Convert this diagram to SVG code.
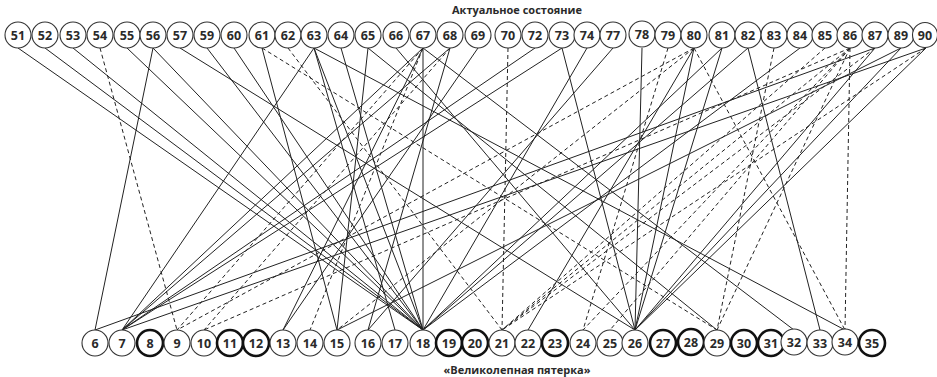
<svg xmlns="http://www.w3.org/2000/svg" width="937" height="377" viewBox="0 0 937 377">
<style>
.bg{fill:#fff}
.s{stroke:#222;stroke-width:1;fill:none}
.d{stroke:#222;stroke-width:1;fill:none;stroke-dasharray:4 3}
.n circle{fill:#fff;stroke:#333;stroke-width:1.1}
.n.k circle{stroke:#111;stroke-width:2.6}
.n text{font-family:"Open Sans","Noto Sans",sans-serif;font-weight:700;font-size:12.5px;fill:#2a2a2a;text-anchor:middle}
.t{font-family:"Open Sans","Noto Sans",sans-serif;font-weight:700;font-size:11px;fill:#2a2a2a;text-anchor:middle}
</style>
<rect class="bg" x="0" y="0" width="937" height="377"/>
<text class="t" x="517" y="14">Актуальное состояние</text>
<text class="t" x="517" y="374">«Великолепная пятерка»</text>
<g id="connectors">
<line class="s" x1="18" y1="48" x2="423" y2="330"/>
<line class="s" x1="45" y1="48" x2="423" y2="330"/>
<line class="s" x1="73" y1="48" x2="423" y2="330"/>
<line class="s" x1="127" y1="48" x2="423" y2="330"/>
<line class="s" x1="153" y1="48" x2="95" y2="330"/>
<line class="s" x1="153" y1="48" x2="423" y2="330"/>
<line class="s" x1="180" y1="48" x2="635" y2="330"/>
<line class="s" x1="207" y1="48" x2="423" y2="330"/>
<line class="s" x1="234" y1="48" x2="423" y2="330"/>
<line class="s" x1="262" y1="48" x2="337" y2="330"/>
<line class="s" x1="314" y1="48" x2="122" y2="330"/>
<line class="s" x1="314" y1="48" x2="395" y2="330"/>
<line class="s" x1="314" y1="48" x2="423" y2="330"/>
<line class="s" x1="314" y1="48" x2="845" y2="330"/>
<line class="s" x1="341" y1="48" x2="423" y2="330"/>
<line class="s" x1="368" y1="48" x2="337" y2="330"/>
<line class="s" x1="368" y1="48" x2="717" y2="330"/>
<line class="s" x1="396" y1="48" x2="635" y2="330"/>
<line class="s" x1="423" y1="48" x2="423" y2="330"/>
<line class="s" x1="423" y1="48" x2="283" y2="330"/>
<line class="s" x1="423" y1="48" x2="794" y2="330"/>
<line class="s" x1="423" y1="48" x2="122" y2="330"/>
<line class="s" x1="450" y1="48" x2="122" y2="330"/>
<line class="s" x1="450" y1="48" x2="368" y2="330"/>
<line class="s" x1="478" y1="48" x2="283" y2="330"/>
<line class="s" x1="535" y1="48" x2="122" y2="330"/>
<line class="s" x1="562" y1="48" x2="122" y2="330"/>
<line class="s" x1="562" y1="48" x2="635" y2="330"/>
<line class="s" x1="587" y1="48" x2="423" y2="330"/>
<line class="s" x1="613" y1="48" x2="368" y2="330"/>
<line class="s" x1="642" y1="48" x2="635" y2="330"/>
<line class="s" x1="694" y1="48" x2="528" y2="330"/>
<line class="s" x1="694" y1="48" x2="635" y2="330"/>
<line class="s" x1="722" y1="48" x2="635" y2="330"/>
<line class="s" x1="722" y1="48" x2="423" y2="330"/>
<line class="s" x1="748" y1="48" x2="820" y2="330"/>
<line class="s" x1="748" y1="48" x2="423" y2="330"/>
<line class="s" x1="800" y1="48" x2="423" y2="330"/>
<line class="s" x1="875" y1="48" x2="635" y2="330"/>
<line class="s" x1="875" y1="48" x2="95" y2="330"/>
<line class="s" x1="901" y1="48" x2="635" y2="330"/>
<line class="s" x1="901" y1="48" x2="337" y2="330"/>
<line class="s" x1="926" y1="48" x2="635" y2="330"/>
<line class="s" x1="926" y1="48" x2="122" y2="330"/>
<line class="d" x1="100" y1="48" x2="177" y2="330"/>
<line class="d" x1="262" y1="48" x2="717" y2="330"/>
<line class="d" x1="288" y1="48" x2="502" y2="330"/>
<line class="d" x1="423" y1="48" x2="177" y2="330"/>
<line class="d" x1="450" y1="48" x2="204" y2="330"/>
<line class="d" x1="423" y1="48" x2="310" y2="330"/>
<line class="d" x1="508" y1="48" x2="502" y2="330"/>
<line class="d" x1="668" y1="48" x2="583" y2="330"/>
<line class="d" x1="694" y1="48" x2="845" y2="330"/>
<line class="d" x1="694" y1="48" x2="337" y2="330"/>
<line class="d" x1="694" y1="48" x2="177" y2="330"/>
<line class="d" x1="774" y1="48" x2="717" y2="330"/>
<line class="d" x1="850" y1="48" x2="845" y2="330"/>
<line class="d" x1="850" y1="48" x2="717" y2="330"/>
<line class="d" x1="825" y1="48" x2="502" y2="330"/>
<line class="d" x1="850" y1="48" x2="502" y2="330"/>
<line class="d" x1="875" y1="48" x2="502" y2="330"/>
<line class="d" x1="926" y1="48" x2="502" y2="330"/>
<line class="d" x1="850" y1="48" x2="583" y2="330"/>
<line class="d" x1="850" y1="48" x2="204" y2="330"/>
<line class="d" x1="850" y1="48" x2="610" y2="330"/>
</g>
<g id="n51" class="n"><circle cx="18" cy="35" r="13"/><text x="18" y="39.5">51</text></g>
<g id="n52" class="n"><circle cx="45" cy="35" r="13"/><text x="45" y="39.5">52</text></g>
<g id="n53" class="n"><circle cx="73" cy="35" r="13"/><text x="73" y="39.5">53</text></g>
<g id="n54" class="n"><circle cx="100" cy="35" r="13"/><text x="100" y="39.5">54</text></g>
<g id="n55" class="n"><circle cx="127" cy="35" r="13"/><text x="127" y="39.5">55</text></g>
<g id="n56" class="n"><circle cx="153" cy="35" r="13"/><text x="153" y="39.5">56</text></g>
<g id="n57" class="n"><circle cx="180" cy="35" r="13"/><text x="180" y="39.5">57</text></g>
<g id="n59" class="n"><circle cx="207" cy="35" r="13"/><text x="207" y="39.5">59</text></g>
<g id="n60" class="n"><circle cx="234" cy="35" r="13"/><text x="234" y="39.5">60</text></g>
<g id="n61" class="n"><circle cx="262" cy="35" r="13"/><text x="262" y="39.5">61</text></g>
<g id="n62" class="n"><circle cx="288" cy="35" r="13"/><text x="288" y="39.5">62</text></g>
<g id="n63" class="n"><circle cx="314" cy="35" r="13"/><text x="314" y="39.5">63</text></g>
<g id="n64" class="n"><circle cx="341" cy="35" r="13"/><text x="341" y="39.5">64</text></g>
<g id="n65" class="n"><circle cx="368" cy="35" r="13"/><text x="368" y="39.5">65</text></g>
<g id="n66" class="n"><circle cx="396" cy="35" r="13"/><text x="396" y="39.5">66</text></g>
<g id="n67" class="n"><circle cx="423" cy="35" r="13"/><text x="423" y="39.5">67</text></g>
<g id="n68" class="n"><circle cx="450" cy="35" r="13"/><text x="450" y="39.5">68</text></g>
<g id="n69" class="n"><circle cx="478" cy="35" r="13"/><text x="478" y="39.5">69</text></g>
<g id="n70" class="n"><circle cx="508" cy="35" r="13"/><text x="508" y="39.5">70</text></g>
<g id="n72" class="n"><circle cx="535" cy="35" r="13"/><text x="535" y="39.5">72</text></g>
<g id="n73" class="n"><circle cx="562" cy="35" r="13"/><text x="562" y="39.5">73</text></g>
<g id="n74" class="n"><circle cx="587" cy="35" r="13"/><text x="587" y="39.5">74</text></g>
<g id="n77" class="n"><circle cx="613" cy="35" r="13"/><text x="613" y="39.5">77</text></g>
<g id="n78" class="n"><circle cx="642" cy="34" r="13"/><text x="642" y="38.5">78</text></g>
<g id="n79" class="n"><circle cx="668" cy="35" r="13"/><text x="668" y="39.5">79</text></g>
<g id="n80" class="n"><circle cx="694" cy="35" r="13"/><text x="694" y="39.5">80</text></g>
<g id="n81" class="n"><circle cx="722" cy="35" r="13"/><text x="722" y="39.5">81</text></g>
<g id="n82" class="n"><circle cx="748" cy="35" r="13"/><text x="748" y="39.5">82</text></g>
<g id="n83" class="n"><circle cx="774" cy="35" r="13"/><text x="774" y="39.5">83</text></g>
<g id="n84" class="n"><circle cx="800" cy="35" r="13"/><text x="800" y="39.5">84</text></g>
<g id="n85" class="n"><circle cx="825" cy="35" r="13"/><text x="825" y="39.5">85</text></g>
<g id="n86" class="n"><circle cx="850" cy="35" r="13"/><text x="850" y="39.5">86</text></g>
<g id="n87" class="n"><circle cx="875" cy="35" r="13"/><text x="875" y="39.5">87</text></g>
<g id="n89" class="n"><circle cx="901" cy="35" r="13"/><text x="901" y="39.5">89</text></g>
<g id="n90" class="n"><circle cx="925" cy="35" r="12.5"/><text x="925" y="39.5">90</text></g>
<g id="n6" class="n"><circle cx="95" cy="343" r="13"/><text x="95" y="347.5">6</text></g>
<g id="n7" class="n"><circle cx="122" cy="343" r="13"/><text x="122" y="347.5">7</text></g>
<g id="n8" class="n k"><circle cx="150" cy="343" r="13"/><text x="150" y="347.5">8</text></g>
<g id="n9" class="n"><circle cx="177" cy="343" r="13"/><text x="177" y="347.5">9</text></g>
<g id="n10" class="n"><circle cx="204" cy="343" r="13"/><text x="204" y="347.5">10</text></g>
<g id="n11" class="n k"><circle cx="230" cy="343" r="13"/><text x="230" y="347.5">11</text></g>
<g id="n12" class="n k"><circle cx="256" cy="343" r="13"/><text x="256" y="347.5">12</text></g>
<g id="n13" class="n"><circle cx="283" cy="343" r="13"/><text x="283" y="347.5">13</text></g>
<g id="n14" class="n"><circle cx="310" cy="343" r="13"/><text x="310" y="347.5">14</text></g>
<g id="n15" class="n"><circle cx="337" cy="343" r="13"/><text x="337" y="347.5">15</text></g>
<g id="n16" class="n"><circle cx="368" cy="343" r="13"/><text x="368" y="347.5">16</text></g>
<g id="n17" class="n"><circle cx="395" cy="343" r="13"/><text x="395" y="347.5">17</text></g>
<g id="n18" class="n"><circle cx="423" cy="343" r="13"/><text x="423" y="347.5">18</text></g>
<g id="n19" class="n k"><circle cx="449" cy="343" r="13"/><text x="449" y="347.5">19</text></g>
<g id="n20" class="n k"><circle cx="475" cy="343" r="13"/><text x="475" y="347.5">20</text></g>
<g id="n21" class="n"><circle cx="502" cy="343" r="13"/><text x="502" y="347.5">21</text></g>
<g id="n22" class="n"><circle cx="528" cy="343" r="13"/><text x="528" y="347.5">22</text></g>
<g id="n23" class="n k"><circle cx="555" cy="343" r="13"/><text x="555" y="347.5">23</text></g>
<g id="n24" class="n"><circle cx="583" cy="343" r="13"/><text x="583" y="347.5">24</text></g>
<g id="n25" class="n"><circle cx="610" cy="343" r="13"/><text x="610" y="347.5">25</text></g>
<g id="n26" class="n"><circle cx="635" cy="343" r="13"/><text x="635" y="347.5">26</text></g>
<g id="n27" class="n k"><circle cx="663" cy="343" r="13"/><text x="663" y="347.5">27</text></g>
<g id="n28" class="n k"><circle cx="691" cy="342" r="13"/><text x="691" y="346.5">28</text></g>
<g id="n29" class="n"><circle cx="717" cy="343" r="13"/><text x="717" y="347.5">29</text></g>
<g id="n30" class="n k"><circle cx="744" cy="343" r="13"/><text x="744" y="347.5">30</text></g>
<g id="n31" class="n k"><circle cx="771" cy="343" r="13"/><text x="771" y="347.5">31</text></g>
<g id="n32" class="n"><circle cx="794" cy="342" r="13"/><text x="794" y="346.5">32</text></g>
<g id="n33" class="n"><circle cx="820" cy="343" r="13"/><text x="820" y="347.5">33</text></g>
<g id="n34" class="n"><circle cx="845" cy="342" r="13"/><text x="845" y="346.5">34</text></g>
<g id="n35" class="n k"><circle cx="872" cy="343" r="13"/><text x="872" y="347.5">35</text></g>
</svg>
